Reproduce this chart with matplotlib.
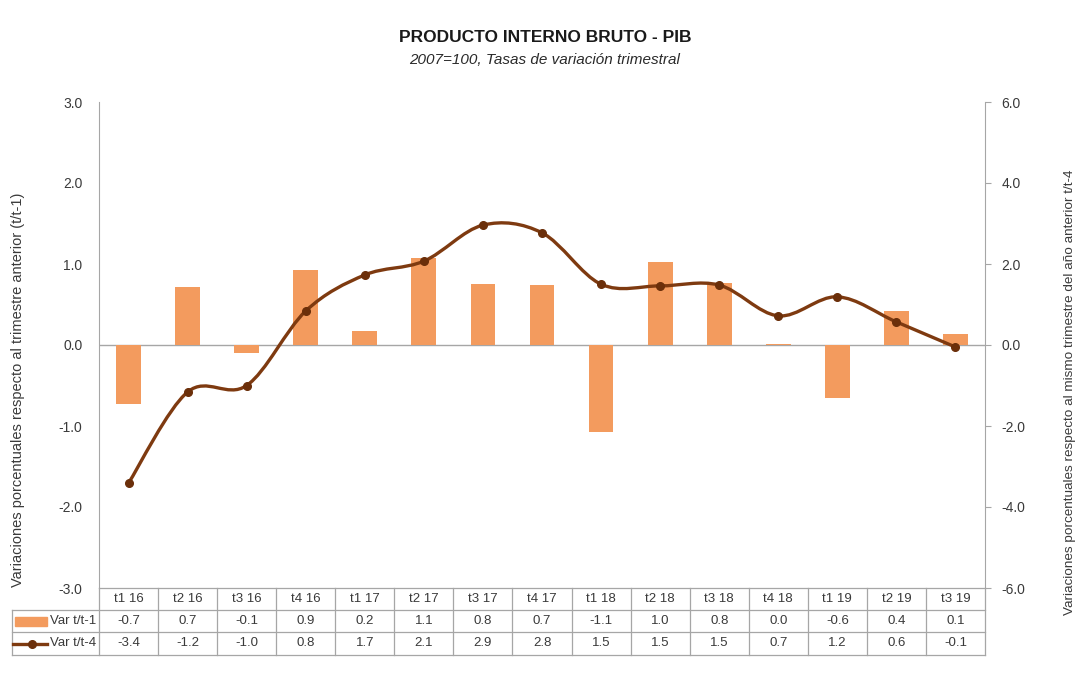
import matplotlib.pyplot as plt
from matplotlib.path import Path
from matplotlib.patches import PathPatch, Rectangle
from matplotlib.lines import Line2D

plt.rcParams['font.family'] = ['Liberation Sans', 'DejaVu Sans']

# Datos
trimestres = ['t1 16', 't2 16', 't3 16', 't4 16', 't1 17', 't2 17', 't3 17', 't4 17',
              't1 18', 't2 18', 't3 18', 't4 18', 't1 19', 't2 19', 't3 19']
var_t1 = [-0.73, 0.71, -0.10, 0.92, 0.17, 1.08, 0.75, 0.74, -1.07, 1.02, 0.77, 0.01, -0.65, 0.42, 0.14]
var_t4 = [-3.41, -1.16, -1.00, 0.84, 1.73, 2.07, 2.96, 2.77, 1.50, 1.46, 1.48, 0.72, 1.19, 0.57, -0.05]
tabla_t1 = ['-0.7', '0.7', '-0.1', '0.9', '0.2', '1.1', '0.8', '0.7', '-1.1', '1.0', '0.8', '0.0', '-0.6', '0.4', '0.1']
tabla_t4 = ['-3.4', '-1.2', '-1.0', '0.8', '1.7', '2.1', '2.9', '2.8', '1.5', '1.5', '1.5', '0.7', '1.2', '0.6', '-0.1']
filas = ['Var t/t-1', 'Var t/t-4']

naranja = '#F39B5E'
marron = '#7E3A10'
gris = '#A6A6A6'
texto = '#3A3A3A'

W, H = 1089, 674
fig = plt.figure(figsize=(W / 100, H / 100), dpi=100)
ax = fig.add_axes([99 / W, 1 - 588 / H, 886 / W, 486 / H])
x = list(range(len(trimestres)))

# Barras (eje izquierdo)
ax.bar(x, var_t1, width=0.42, color=naranja, zorder=2)
ax.axhline(0, color=gris, lw=1, zorder=1)
ax.set_xlim(-0.5, len(trimestres) - 0.5)
ax.set_ylim(-3, 3)
ax.set_yticks([-3, -2, -1, 0, 1, 2, 3])
ax.set_yticklabels([f'{v:.1f}' for v in [-3, -2, -1, 0, 1, 2, 3]])
ax.set_xticks([])
ax.tick_params(axis='y', length=0, pad=12, labelsize=10, labelcolor=texto)
for s in ['top', 'bottom', 'right']:
    ax.spines[s].set_visible(False)
ax.spines['left'].set_color(gris)

# Línea suavizada (eje derecho)
ax2 = ax.twinx()
ax2.set_ylim(-6, 6)
ax2.set_yticks([-6, -4, -2, 0, 2, 4, 6])
ax2.set_yticklabels([f'{v:.1f}' for v in [-6, -4, -2, 0, 2, 4, 6]])
ax2.tick_params(axis='y', length=4, color=gris, pad=8, labelsize=10, labelcolor=texto)
for s in ['top', 'bottom', 'left']:
    ax2.spines[s].set_visible(False)
ax2.spines['right'].set_color(gris)

n = len(x)
verts = [(x[0], var_t4[0])]
codes = [Path.MOVETO]
for i in range(n - 1):
    p0 = (x[max(i - 1, 0)], var_t4[max(i - 1, 0)])
    p1 = (x[i], var_t4[i])
    p2 = (x[i + 1], var_t4[i + 1])
    p3 = (x[min(i + 2, n - 1)], var_t4[min(i + 2, n - 1)])
    c1 = (p1[0] + (p2[0] - p0[0]) / 6, p1[1] + (p2[1] - p0[1]) / 6)
    c2 = (p2[0] - (p3[0] - p1[0]) / 6, p2[1] - (p3[1] - p1[1]) / 6)
    verts += [c1, c2, p2]
    codes += [Path.CURVE4] * 3
ax2.add_patch(PathPatch(Path(verts, codes), fill=False, edgecolor=marron, lw=2.4,
                        capstyle='round', joinstyle='round', zorder=3))
ax2.plot(x, var_t4, linestyle='none', marker='o', markersize=5.5,
         color='#6B2F0A', zorder=4)

# Tabla de datos dibujada a mano debajo del eje
px = 886.0
py = 486.0
y_lineas = [0, -22 / py, -44 / py, -67 / py]       # bordes de filas (coord. eje)
y_centros = [(y_lineas[k] + y_lineas[k + 1]) / 2 for k in range(3)]
x_izq = -87 / px
tr_x = ax.get_xaxis_transform()

ax.add_line(Line2D([0, 1], [y_lineas[0]] * 2, transform=ax.transAxes, color=gris,
                   lw=0.9, clip_on=False))
for yl in y_lineas[1:]:
    ax.add_line(Line2D([x_izq, 1], [yl, yl], transform=ax.transAxes, color=gris,
                       lw=0.9, clip_on=False))
ax.add_line(Line2D([x_izq, x_izq], [y_lineas[1], y_lineas[3]], transform=ax.transAxes,
                   color=gris, lw=0.9, clip_on=False))
for k in range(len(trimestres) + 1):
    ax.add_line(Line2D([k - 0.5, k - 0.5], [y_lineas[0], y_lineas[3]], transform=tr_x,
                       color=gris, lw=0.9, clip_on=False))

for i, t in enumerate(trimestres):
    ax.text(i, y_centros[0], t, transform=tr_x, ha='center', va='center',
            fontsize=9.5, color=texto, clip_on=False)
    ax.text(i, y_centros[1], tabla_t1[i], transform=tr_x, ha='center', va='center',
            fontsize=9.5, color=texto, clip_on=False)
    ax.text(i, y_centros[2], tabla_t4[i], transform=tr_x, ha='center', va='center',
            fontsize=9.5, color=texto, clip_on=False)

for k, f in enumerate(filas):
    ax.text(-3 / px, y_centros[k + 1], f, transform=ax.transAxes, ha='right',
            va='center', fontsize=9.5, color=texto, clip_on=False)

# Símbolos de la leyenda en la tabla
ax.add_patch(Rectangle((-84 / px, y_centros[1] - 4.5 / py), 32 / px, 9 / py,
                       transform=ax.transAxes, color=naranja, clip_on=False))
ax.add_line(Line2D([-86 / px, -52 / px], [y_centros[2]] * 2, transform=ax.transAxes,
                   color=marron, lw=2.4, clip_on=False))
ax.add_line(Line2D([-67 / px], [y_centros[2]], transform=ax.transAxes, marker='o',
                   markersize=5.5, color='#6B2F0A', clip_on=False))

# Títulos y etiquetas
fig.text(545 / W, 1 - 37 / H, 'PRODUCTO INTERNO BRUTO - PIB', ha='center', va='center',
         fontsize=12.5, fontweight='bold', color='#1A1A1A')
fig.text(545 / W, 1 - 60 / H, '2007=100, Tasas de variación trimestral', ha='center',
         va='center', fontsize=11, style='italic', color='#2A2A2A')
fig.text(18 / W, 1 - 390 / H,
         'Variaciones porcentuales respecto al trimestre anterior (t/t-1)',
         rotation=90, ha='center', va='center', fontsize=10.5, color=texto)
fig.text(1070 / W, 1 - 392 / H,
         'Variaciones porcentuales respecto al mismo trimestre del año anterior t/t-4',
         rotation=90, ha='center', va='center', fontsize=9.7, color=texto)

fig.savefig('out.png', dpi=100, facecolor='white')
